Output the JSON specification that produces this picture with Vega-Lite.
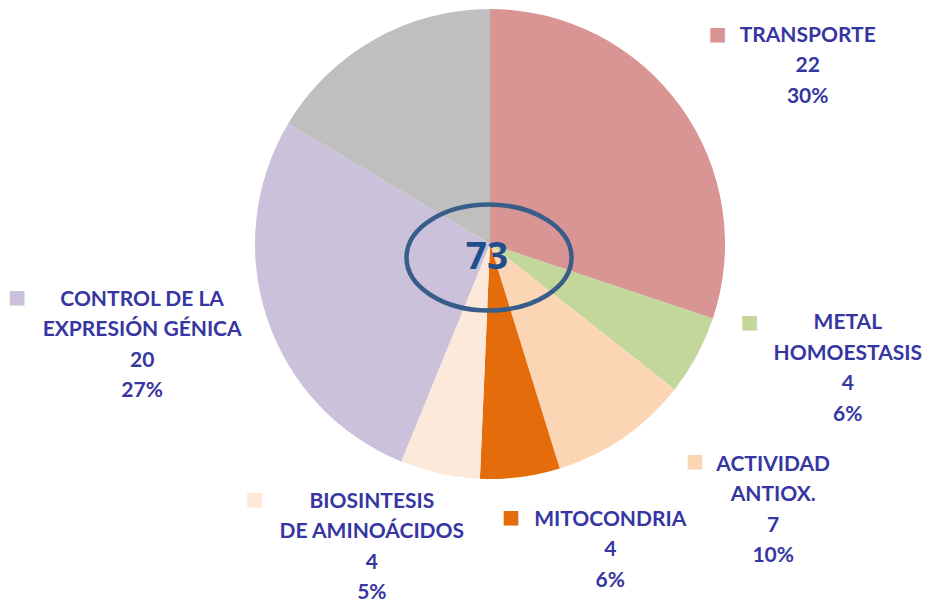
{
  "$schema": "https://vega.github.io/schema/vega-lite/v6.json",
  "width": 470,
  "height": 470,
  "autosize": {"type": "none"},
  "padding": {"left": 255, "top": 9, "right": 203, "bottom": 123},
  "background": "white",
  "config": {"view": {"stroke": null}},
  "data": {
    "values": [
      {"cat": "TRANSPORTE", "n": 22, "o": 1, "label": "TRANSPORTE\n22\n30%"},
      {"cat": "METAL HOMOESTASIS", "n": 4, "o": 2, "label": "METAL\nHOMOESTASIS\n4\n6%"},
      {"cat": "ACTIVIDAD ANTIOX.", "n": 7, "o": 3, "label": "ACTIVIDAD\nANTIOX.\n7\n10%"},
      {"cat": "MITOCONDRIA", "n": 4, "o": 4, "label": "MITOCONDRIA\n4\n6%"},
      {"cat": "BIOSINTESIS DE AMINOÁCIDOS", "n": 4, "o": 5, "label": "BIOSINTESIS\nDE AMINOÁCIDOS\n4\n5%"},
      {"cat": "CONTROL DE LA EXPRESIÓN GÉNICA", "n": 20, "o": 6, "label": "CONTROL DE LA\nEXPRESIÓN GÉNICA\n20\n27%"},
      {"cat": "OTROS", "n": 12, "o": 7, "label": ""}
    ]
  },
  "layer": [
    {
      "mark": {"type": "arc", "radius": 235, "stroke": null},
      "encoding": {
        "theta": {"field": "n", "type": "quantitative", "stack": true},
        "order": {"field": "o", "type": "quantitative", "sort": "ascending"},
        "color": {
          "field": "cat", "type": "nominal", "legend": null,
          "scale": {
            "domain": ["TRANSPORTE", "METAL HOMOESTASIS", "ACTIVIDAD ANTIOX.", "MITOCONDRIA", "BIOSINTESIS DE AMINOÁCIDOS", "CONTROL DE LA EXPRESIÓN GÉNICA", "OTROS"],
            "range": ["#D99594", "#C4D79B", "#FCD5B4", "#E46C0A", "#FDE9D9", "#CCC1DA", "#BFBFBF"]
          }
        }
      }
    },
    {
      "data": {"values": [{"k": "anillo"}]},
      "mark": {
        "type": "point",
        "shape": "M -1.012 0.164 A 1 0.642 0 1 1 0.988 0.164 A 1 0.642 0 1 1 -1.012 0.164 Z",
        "size": 27225,
        "filled": false,
        "stroke": "#385D8A",
        "strokeWidth": 4.5,
        "opacity": 1
      },
      "encoding": {}
    },
    {
      "transform": [{"aggregate": [{"op": "sum", "field": "n", "as": "total"}]}],
      "mark": {"type": "text", "font": "Open Sans", "fontSize": 37, "fontWeight": "bold", "color": "#1F4E8C", "align": "center", "baseline": "middle", "dx": -3, "dy": 14},
      "encoding": {"text": {"field": "total", "type": "quantitative"}}
    },
    {
      "mark": {"type": "text", "radius": 235, "font": "DejaVu Sans", "fontSize": 19, "align": "center", "baseline": "middle", "dx": 37, "dy": -73},
      "encoding": {
        "theta": {"field": "n", "type": "quantitative", "stack": true},
        "order": {"field": "o", "type": "quantitative", "sort": "ascending"},
        "color": {"field": "cat", "type": "nominal", "legend": null},
        "text": {"condition": {"test": "datum.cat === 'TRANSPORTE'", "value": "■"}, "value": ""}
      }
    },
    {
      "mark": {"type": "text", "radius": 235, "font": "DejaVu Sans", "fontSize": 19, "align": "center", "baseline": "middle", "dx": 53, "dy": -34},
      "encoding": {
        "theta": {"field": "n", "type": "quantitative", "stack": true},
        "order": {"field": "o", "type": "quantitative", "sort": "ascending"},
        "color": {"field": "cat", "type": "nominal", "legend": null},
        "text": {"condition": {"test": "datum.cat === 'METAL HOMOESTASIS'", "value": "■"}, "value": ""}
      }
    },
    {
      "mark": {"type": "text", "radius": 235, "font": "DejaVu Sans", "fontSize": 19, "align": "center", "baseline": "middle", "dx": 72, "dy": 23},
      "encoding": {
        "theta": {"field": "n", "type": "quantitative", "stack": true},
        "order": {"field": "o", "type": "quantitative", "sort": "ascending"},
        "color": {"field": "cat", "type": "nominal", "legend": null},
        "text": {"condition": {"test": "datum.cat === 'ACTIVIDAD ANTIOX.'", "value": "■"}, "value": ""}
      }
    },
    {
      "mark": {"type": "text", "radius": 235, "font": "DejaVu Sans", "fontSize": 19, "align": "center", "baseline": "middle", "dx": -9, "dy": 40},
      "encoding": {
        "theta": {"field": "n", "type": "quantitative", "stack": true},
        "order": {"field": "o", "type": "quantitative", "sort": "ascending"},
        "color": {"field": "cat", "type": "nominal", "legend": null},
        "text": {"condition": {"test": "datum.cat === 'MITOCONDRIA'", "value": "■"}, "value": ""}
      }
    },
    {
      "mark": {"type": "text", "radius": 235, "font": "DejaVu Sans", "fontSize": 19, "align": "center", "baseline": "middle", "dx": -185, "dy": 25},
      "encoding": {
        "theta": {"field": "n", "type": "quantitative", "stack": true},
        "order": {"field": "o", "type": "quantitative", "sort": "ascending"},
        "color": {"field": "cat", "type": "nominal", "legend": null},
        "text": {"condition": {"test": "datum.cat === 'BIOSINTESIS DE AMINOÁCIDOS'", "value": "■"}, "value": ""}
      }
    },
    {
      "mark": {"type": "text", "radius": 235, "font": "DejaVu Sans", "fontSize": 19, "align": "center", "baseline": "middle", "dx": -250, "dy": -22},
      "encoding": {
        "theta": {"field": "n", "type": "quantitative", "stack": true},
        "order": {"field": "o", "type": "quantitative", "sort": "ascending"},
        "color": {"field": "cat", "type": "nominal", "legend": null},
        "text": {"condition": {"test": "datum.cat === 'CONTROL DE LA EXPRESIÓN GÉNICA'", "value": "■"}, "value": ""}
      }
    },
    {
      "mark": {"type": "text", "radius": 235, "font": "Lato", "fontWeight": "bold", "fontSize": 21, "lineHeight": 30.5, "lineBreak": "\n", "color": "#3636A2", "align": "center", "baseline": "middle", "dx": 127, "dy": -71},
      "encoding": {
        "theta": {"field": "n", "type": "quantitative", "stack": true},
        "order": {"field": "o", "type": "quantitative", "sort": "ascending"},
        "text": {"condition": {"test": "datum.cat === 'TRANSPORTE'", "field": "label"}, "value": ""}
      }
    },
    {
      "mark": {"type": "text", "radius": 235, "font": "Lato", "fontWeight": "bold", "fontSize": 21, "lineHeight": 30.5, "lineBreak": "\n", "color": "#3636A2", "align": "center", "baseline": "middle", "dx": 151, "dy": -32.5},
      "encoding": {
        "theta": {"field": "n", "type": "quantitative", "stack": true},
        "order": {"field": "o", "type": "quantitative", "sort": "ascending"},
        "text": {"condition": {"test": "datum.cat === 'METAL HOMOESTASIS'", "field": "label"}, "value": ""}
      }
    },
    {
      "mark": {"type": "text", "radius": 235, "font": "Lato", "fontWeight": "bold", "fontSize": 21, "lineHeight": 30.5, "lineBreak": "\n", "color": "#3636A2", "align": "center", "baseline": "middle", "dx": 150, "dy": 27},
      "encoding": {
        "theta": {"field": "n", "type": "quantitative", "stack": true},
        "order": {"field": "o", "type": "quantitative", "sort": "ascending"},
        "text": {"condition": {"test": "datum.cat === 'ACTIVIDAD ANTIOX.'", "field": "label"}, "value": ""}
      }
    },
    {
      "mark": {"type": "text", "radius": 235, "font": "Lato", "fontWeight": "bold", "fontSize": 21, "lineHeight": 30.5, "lineBreak": "\n", "color": "#3636A2", "align": "center", "baseline": "middle", "dx": 90, "dy": 42.5},
      "encoding": {
        "theta": {"field": "n", "type": "quantitative", "stack": true},
        "order": {"field": "o", "type": "quantitative", "sort": "ascending"},
        "text": {"condition": {"test": "datum.cat === 'MITOCONDRIA'", "field": "label"}, "value": ""}
      }
    },
    {
      "mark": {"type": "text", "radius": 235, "font": "Lato", "fontWeight": "bold", "fontSize": 21, "lineHeight": 30.5, "lineBreak": "\n", "color": "#3636A2", "align": "center", "baseline": "middle", "dx": -68, "dy": 28},
      "encoding": {
        "theta": {"field": "n", "type": "quantitative", "stack": true},
        "order": {"field": "o", "type": "quantitative", "sort": "ascending"},
        "text": {"condition": {"test": "datum.cat === 'BIOSINTESIS DE AMINOÁCIDOS'", "field": "label"}, "value": ""}
      }
    },
    {
      "mark": {"type": "text", "radius": 235, "font": "Lato", "fontWeight": "bold", "fontSize": 21, "lineHeight": 30.5, "lineBreak": "\n", "color": "#3636A2", "align": "center", "baseline": "middle", "dx": -125, "dy": -19},
      "encoding": {
        "theta": {"field": "n", "type": "quantitative", "stack": true},
        "order": {"field": "o", "type": "quantitative", "sort": "ascending"},
        "text": {"condition": {"test": "datum.cat === 'CONTROL DE LA EXPRESIÓN GÉNICA'", "field": "label"}, "value": ""}
      }
    }
  ]
}
